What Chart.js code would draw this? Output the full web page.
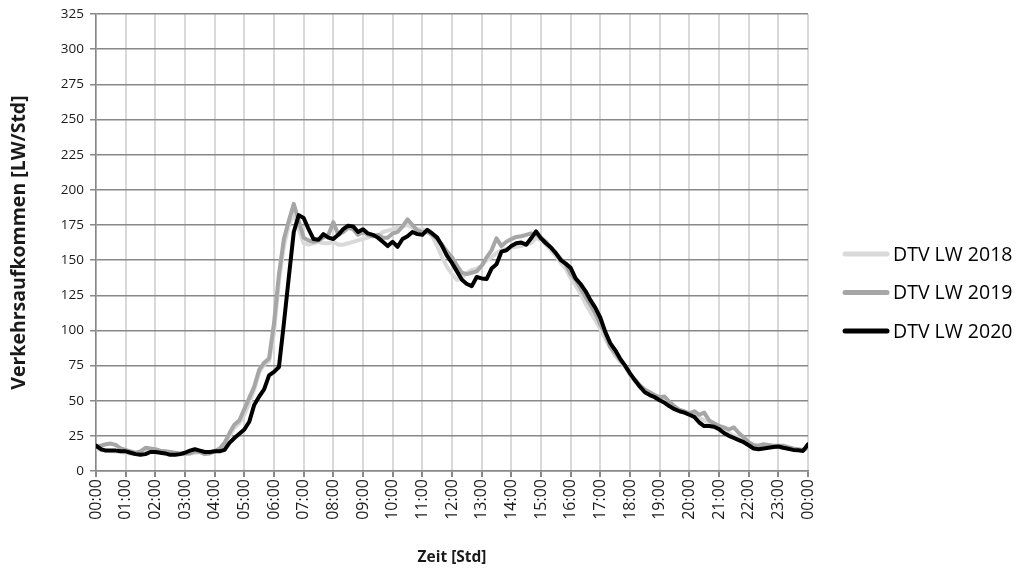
<!DOCTYPE html>
<html>
<head>
<meta charset="utf-8">
<script src="https://cdn.jsdelivr.net/npm/chart.js@4.4.1/dist/chart.umd.min.js"></script>
<style>
  html, body { margin: 0; padding: 0; background: #fff; }
  #wrap { width: 1021px; height: 573px; position: relative; }
</style>
</head>
<body>
<div id="wrap"><canvas id="chart"></canvas></div>
<script>
'use strict';

// ─── DATA (10-minute values, 00:00 … 24:00) ─────────────────────────────────
const SERIES_LABELS = ['DTV LW 2018', 'DTV LW 2019', 'DTV LW 2020'];
const STEP_MINUTES = 10;

const LW_2018 = [
  16, 15, 14.5, 14, 14, 13.5,
  13, 12.5, 12, 12.5, 13.5, 14,
  14, 13.5, 13, 12.5, 12, 12,
  12, 12.5, 13, 13.5, 13, 13,
  14, 15.5, 19, 25, 31, 34,
  40, 48, 58, 70, 76, 78,
  98, 135, 160, 175, 183, 172,
  162, 161, 162, 163, 162, 162,
  163, 161, 161, 162, 163, 164,
  165, 166, 168, 167, 170, 171,
  172, 173, 174, 175, 173, 172,
  172, 171, 167, 160, 152, 145,
  140, 136, 137, 141, 143, 144,
  146, 150, 152, 155, 157, 158,
  159, 159.5, 160, 161, 162, 166,
  164, 161, 157, 153, 148, 144,
  137, 132, 126, 119, 113, 107,
  101, 94, 88, 82, 78, 74,
  68.5, 64, 60, 57, 55, 53,
  51.5, 50, 47, 45, 43, 42,
  40, 39, 38, 36, 34, 32.5,
  31, 29, 27, 25, 23.5, 22,
  20, 18, 17.5, 18, 17.5, 17.5,
  17, 16.5, 16, 15.5, 15, 15,
  16
];

const LW_2019 = [
  17, 18, 19, 19.5, 18.5, 16,
  15, 14, 13, 14, 16.5, 16,
  15.5, 14.5, 14, 13.5, 13, 12.5,
  12.5, 12.5, 14, 13.5, 12, 12.5,
  14, 16, 20, 27, 33, 36,
  44, 52, 60, 72, 77, 80,
  105, 140, 165, 178, 190, 178,
  166, 164, 163, 164, 166, 168,
  177, 168, 170, 173, 172, 168,
  170, 168, 167, 168, 166, 166,
  169, 170, 174, 179, 175, 171,
  170, 170, 168, 165, 161, 156,
  152, 146, 141, 140, 141, 142,
  146, 152, 157, 165.5, 160, 163,
  165, 166.5, 167, 168, 169, 168.5,
  166, 163, 159, 155, 151, 147,
  140, 136, 130, 124, 118, 112,
  104, 98, 88, 84, 79, 75,
  69, 65, 61, 58, 56, 54,
  52.5, 53, 49, 46, 43.5, 42.5,
  41, 42.5, 40, 41.5, 36, 34,
  32, 31, 29.5, 31, 27, 24,
  20.5, 18.5, 18, 19, 18.5, 18,
  18, 18, 17, 16, 15.5, 15,
  17
];

const LW_2020 = [
  18, 15.5, 14.5, 14.5, 14.5, 14,
  14, 13, 12, 11.5, 12, 13.5,
  13.5, 13, 12.5, 11.5, 11.5, 12,
  13, 14.5, 15.5, 14.5, 13.5, 13.5,
  14, 14, 15, 20, 23.5, 26.5,
  29.5, 35, 47, 53, 58, 68,
  70.5, 74, 105, 138, 170, 182,
  180, 172, 165, 164.5, 168.5, 166,
  165, 168, 172, 174.5, 174, 170,
  172, 169, 168, 166, 163, 160,
  163, 159.5, 165, 167, 170, 168.5,
  168, 171.5, 169, 166, 160, 153,
  148, 142, 136, 133, 131.5, 138,
  137, 136.5, 144, 147, 156, 157,
  160, 162, 162.5, 161, 165.5, 170.5,
  165.5, 162, 159, 155, 150, 147.5,
  144.5, 137, 133, 128, 121.5, 116,
  109, 99, 91, 86, 80, 75,
  69.5, 64.5, 60, 56, 54, 52.5,
  50.3, 48.5, 46, 44, 42.5, 41.5,
  40, 38.5, 34.5, 32, 32, 31.5,
  29.8, 27, 25, 23.5, 22, 20.5,
  18.3, 16, 15.5, 16, 16.5, 17,
  17.4, 16.5, 15.8, 15, 14.7, 14.3,
  19
];

const SERIES_VALUES = [LW_2018, LW_2019, LW_2020];
const SERIES_COLORS = ['#d9d9d9', '#a6a6a6', '#000000'];

const Y_MIN = 0, Y_MAX = 325, Y_STEP = 25;
const X_MIN = 0, X_MAX = 24;

// ─── HELPERS ─────────────────────────────────────────────────────────────────
function toPoints(values) {
  return values.map((v, i) => ({ x: i * STEP_MINUTES / 60, y: v }));
}

function hourLabel(h) {
  const hh = Math.round(h) % 24;
  return (hh < 10 ? '0' : '') + hh + ':00';
}

const FONT = 'Open Sans';

// legend drawn at the right, line sample + label
const sideLegend = {
  id: 'sideLegend',
  afterDraw(chart) {
    const ctx = chart.ctx;
    const rows = [254, 292.5, 331];
    ctx.save();
    ctx.font = '19.5px "' + FONT + '"';
    ctx.textBaseline = 'middle';
    ctx.textAlign = 'left';
    chart.data.datasets.forEach((ds, i) => {
      const y = rows[i];
      ctx.strokeStyle = ds.borderColor;
      ctx.lineWidth = 5;
      ctx.lineCap = 'round';
      ctx.beginPath();
      ctx.moveTo(845, y);
      ctx.lineTo(887, y);
      ctx.stroke();
      ctx.fillStyle = '#000';
      ctx.fillText(ds.label, 893, y + 1);
    });
    ctx.restore();
  }
};

// ─── CHART ──────────────────────────────────────────────────────────────────
new Chart(document.getElementById('chart'), {
  type: 'line',
  data: {
    datasets: SERIES_LABELS.map((label, i) => ({
      label,
      data: toPoints(SERIES_VALUES[i]),
      borderColor: SERIES_COLORS[i],
      backgroundColor: SERIES_COLORS[i],
      borderWidth: 4,
      borderJoinStyle: 'round',
      borderCapStyle: 'round',
      pointRadius: 0,
      tension: 0,
      fill: false,
      order: 3 - i
    }))
  },
  options: {
    responsive: true,
    maintainAspectRatio: false,
    animation: false,
    layout: { padding: { left: 0, top: 14, right: 1021 - 808, bottom: 0 } },
    plugins: {
      legend: { display: false },
      tooltip: { enabled: false }
    },
    scales: {
      x: {
        type: 'linear',
        min: X_MIN, max: X_MAX,
        afterFit: s => { s.height = 573 - 471; },
        ticks: {
          stepSize: 1,
          autoSkip: false,
          minRotation: 90, maxRotation: 90,
          padding: 2,
          color: '#1a1a1a',
          font: { family: FONT, size: 16 },
          callback: v => hourLabel(v)
        },
        grid: {
          color: '#d9d9d9',
          lineWidth: 2,
          tickColor: '#888888',
          tickLength: 6
        },
        border: { color: '#888888', width: 1.5 },
        title: {
          display: true,
          text: 'Zeit [Std]',
          color: '#1a1a1a',
          font: { family: FONT, size: 15.5, weight: 'bold' },
          padding: { top: 0, bottom: 6 }
        }
      },
      y: {
        min: Y_MIN, max: Y_MAX,
        afterFit: s => { s.width = 96; },
        ticks: {
          stepSize: Y_STEP,
          padding: 6,
          color: '#1a1a1a',
          font: { family: FONT, size: 13.5 }
        },
        grid: {
          color: '#888888',
          lineWidth: 1.5,
          tickColor: '#888888',
          tickLength: 6
        },
        border: { color: '#888888', width: 1.5 },
        title: {
          display: true,
          text: 'Verkehrsaufkommen [LW/Std]',
          color: '#1a1a1a',
          font: { family: FONT, size: 19.5, weight: 'bold' },
          padding: { top: 8, bottom: 0 }
        }
      }
    }
  },
  plugins: [sideLegend]
});
</script>
</body>
</html>
